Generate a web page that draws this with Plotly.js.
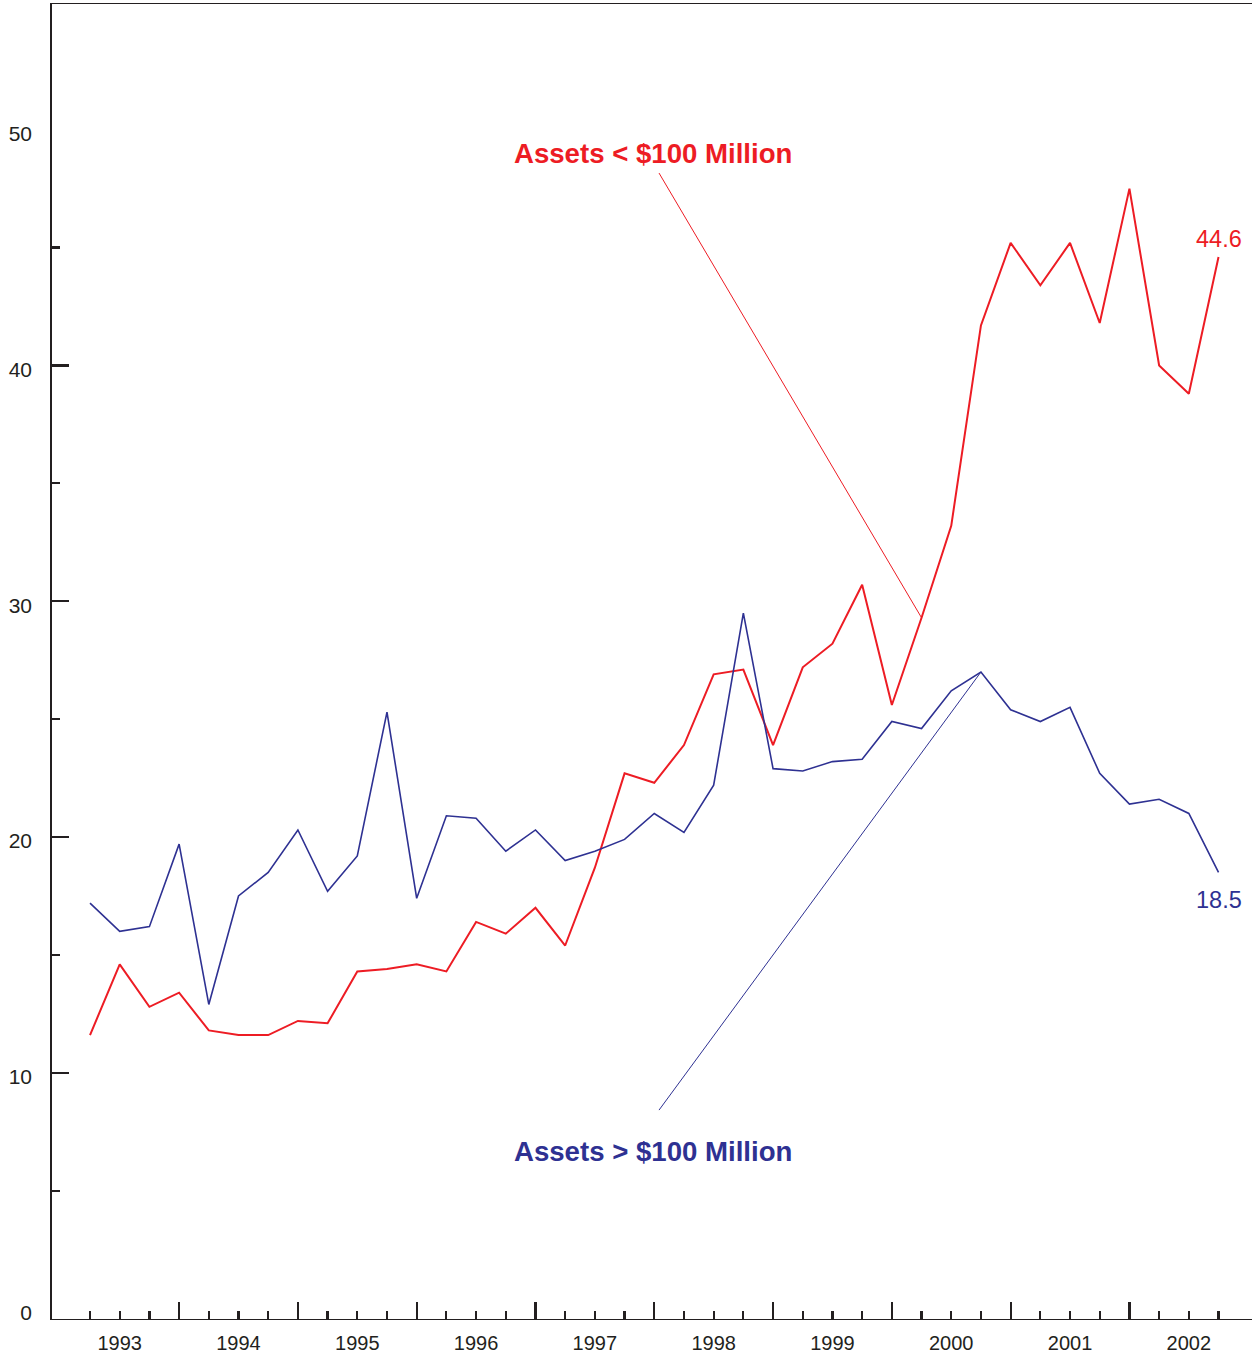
<!DOCTYPE html>
<html>
<head>
<meta charset="utf-8">
<script src="https://cdn.plot.ly/plotly-3.0.1.min.js"></script>
<style>html,body{margin:0;padding:0;overflow:hidden;background:#fff;}</style>
</head>
<body>
<div id="chart" style="width:1262px;height:1355px;"></div>
<script>
// Quarter-end positions (year + q/4), 1993Q1 .. 2002Q3
const quarters = [];
for (let y = 1993; y <= 2002; y++) {
  for (let q = 1; q <= 4; q++) {
    if (y === 2002 && q === 4) break;
    quarters.push(y + q / 4);
  }
}
// Assets < $100 Million
const smallBanks = [11.6, 14.6, 12.8, 13.4, 11.8, 11.6, 11.6, 12.2, 12.1, 14.3, 14.4, 14.6,
  14.3, 16.4, 15.9, 17.0, 15.4, 18.7, 22.7, 22.3, 23.9, 26.9, 27.1, 23.9, 27.2, 28.2, 30.7,
  25.6, 29.3, 33.2, 41.7, 45.2, 43.4, 45.2, 41.8, 47.5, 40.0, 38.8, 44.6];
// Assets > $100 Million
const largeBanks = [17.2, 16.0, 16.2, 19.7, 12.9, 17.5, 18.5, 20.3, 17.7, 19.2, 25.3, 17.4,
  20.9, 20.8, 19.4, 20.3, 19.0, 19.4, 19.9, 21.0, 20.2, 22.2, 29.5, 22.9, 22.8, 23.2, 23.3,
  24.9, 24.6, 26.2, 27.0, 25.4, 24.9, 25.5, 22.7, 21.4, 21.6, 21.0, 18.5];
const yearLabels = ['1993','1994','1995','1996','1997','1998','1999','2000','2001','2002'];
const yearCenters = yearLabels.map(s => Number(s) + 0.5);
const yearBounds = [1994, 1995, 1996, 1997, 1998, 1999, 2000, 2001, 2002];
const minorQuarters = quarters.filter(q => !Number.isInteger(q));
const yLabelVals = [0, 10, 20, 30, 40, 50];
const yMajor = [10, 20, 30, 40];
const yMinor = [5, 15, 25, 35, 45];
const smallName = 'Assets < $100 Million';
const largeName = 'Assets > $100 Million';

const RED = '#ED1C24';
const BLUE = '#2E3192';
const INK = '#231F20';
const FONT = 'Liberation Sans, Arial, Helvetica, sans-serif';

const xRange = [1992.930, 2003.116];
const yRange = [-0.44, 55.33];

const traces = [
  {x: quarters, y: smallBanks, type: 'scatter', mode: 'lines', name: smallName,
   line: {color: RED, width: 2}, xaxis: 'x', yaxis: 'y'},
  {x: quarters, y: largeBanks, type: 'scatter', mode: 'lines', name: largeName,
   line: {color: BLUE, width: 1.6}, xaxis: 'x', yaxis: 'y'},
  // empty helper trace so the overlaid label axes are drawn
  {x: [], y: [], type: 'scatter', mode: 'lines', xaxis: 'x2', yaxis: 'y2', showlegend: false, hoverinfo: 'skip'}
];

const n = quarters.length;
const iSmall = 28, iLarge = 30;
const layout = {
  width: 1262, height: 1355,
  margin: {l: 52, r: 0, t: 4, b: 36},
  paper_bgcolor: '#fff', plot_bgcolor: '#fff',
  showlegend: false,
  font: {family: FONT, color: INK},
  xaxis: {
    range: xRange, showgrid: false, zeroline: false,
    showline: true, linecolor: INK, linewidth: 1.2, mirror: true,
    tickmode: 'array', tickvals: yearBounds, ticks: 'inside', ticklen: 17, tickwidth: 2.2, tickcolor: INK,
    showticklabels: false,
    minor: {tickmode: 'array', tickvals: minorQuarters, ticks: 'inside', ticklen: 8, tickwidth: 2.2, tickcolor: INK, showgrid: false}
  },
  xaxis2: {
    overlaying: 'x', anchor: 'y2', side: 'bottom', range: xRange,
    showgrid: false, zeroline: false, showline: false,
    tickmode: 'array', tickvals: yearCenters, ticktext: yearLabels, ticks: '',
    tickfont: {family: FONT, size: 20, color: INK}, ticklabelstandoff: 10
  },
  yaxis: {
    range: yRange, showgrid: false, zeroline: false,
    showline: true, linecolor: INK, linewidth: 1.6, mirror: true,
    tickmode: 'array', tickvals: yMajor, ticks: 'inside', ticklen: 17, tickwidth: 2.2, tickcolor: INK,
    showticklabels: false,
    minor: {tickmode: 'array', tickvals: yMinor, ticks: 'inside', ticklen: 8, tickwidth: 2.2, tickcolor: INK, showgrid: false}
  },
  yaxis2: {
    overlaying: 'y', anchor: 'x2', side: 'left', range: yRange,
    showgrid: false, zeroline: false, showline: false,
    tickmode: 'array', tickvals: yLabelVals, ticks: '',
    tickfont: {family: FONT, size: 21, color: INK}, ticklabelstandoff: 19, ticklabelshift: 4
  },
  shapes: [
    {type: 'line', xref: 'x', yref: 'y', x0: 1998.04, y0: 48.16, x1: quarters[iSmall], y1: smallBanks[iSmall],
     line: {color: RED, width: 1}},
    {type: 'line', xref: 'x', yref: 'y', x0: 1998.04, y0: 8.42, x1: quarters[iLarge], y1: largeBanks[iLarge],
     line: {color: BLUE, width: 1}}
  ],
  annotations: [
    {xref: 'x', yref: 'y', x: 1997.99, y: 48.97, text: '<b>' + smallName.replace('<', '&lt;') + '</b>', showarrow: false,
     font: {family: FONT, size: 27.6, color: RED}},
    {xref: 'x', yref: 'y', x: 1997.99, y: 6.67, text: '<b>' + largeName.replace('>', '&gt;') + '</b>', showarrow: false,
     font: {family: FONT, size: 27.6, color: BLUE}},
    {xref: 'x', yref: 'y', x: quarters[n - 1], y: smallBanks[n - 1], yshift: 18, text: smallBanks[n - 1].toFixed(1),
     showarrow: false, font: {family: FONT, size: 23.5, color: RED}},
    {xref: 'x', yref: 'y', x: quarters[n - 1], y: largeBanks[n - 1], yshift: -28, text: largeBanks[n - 1].toFixed(1),
     showarrow: false, font: {family: FONT, size: 23.5, color: BLUE}}
  ]
};

Plotly.newPlot('chart', traces, layout, {displayModeBar: false, staticPlot: true});
</script>
</body>
</html>
